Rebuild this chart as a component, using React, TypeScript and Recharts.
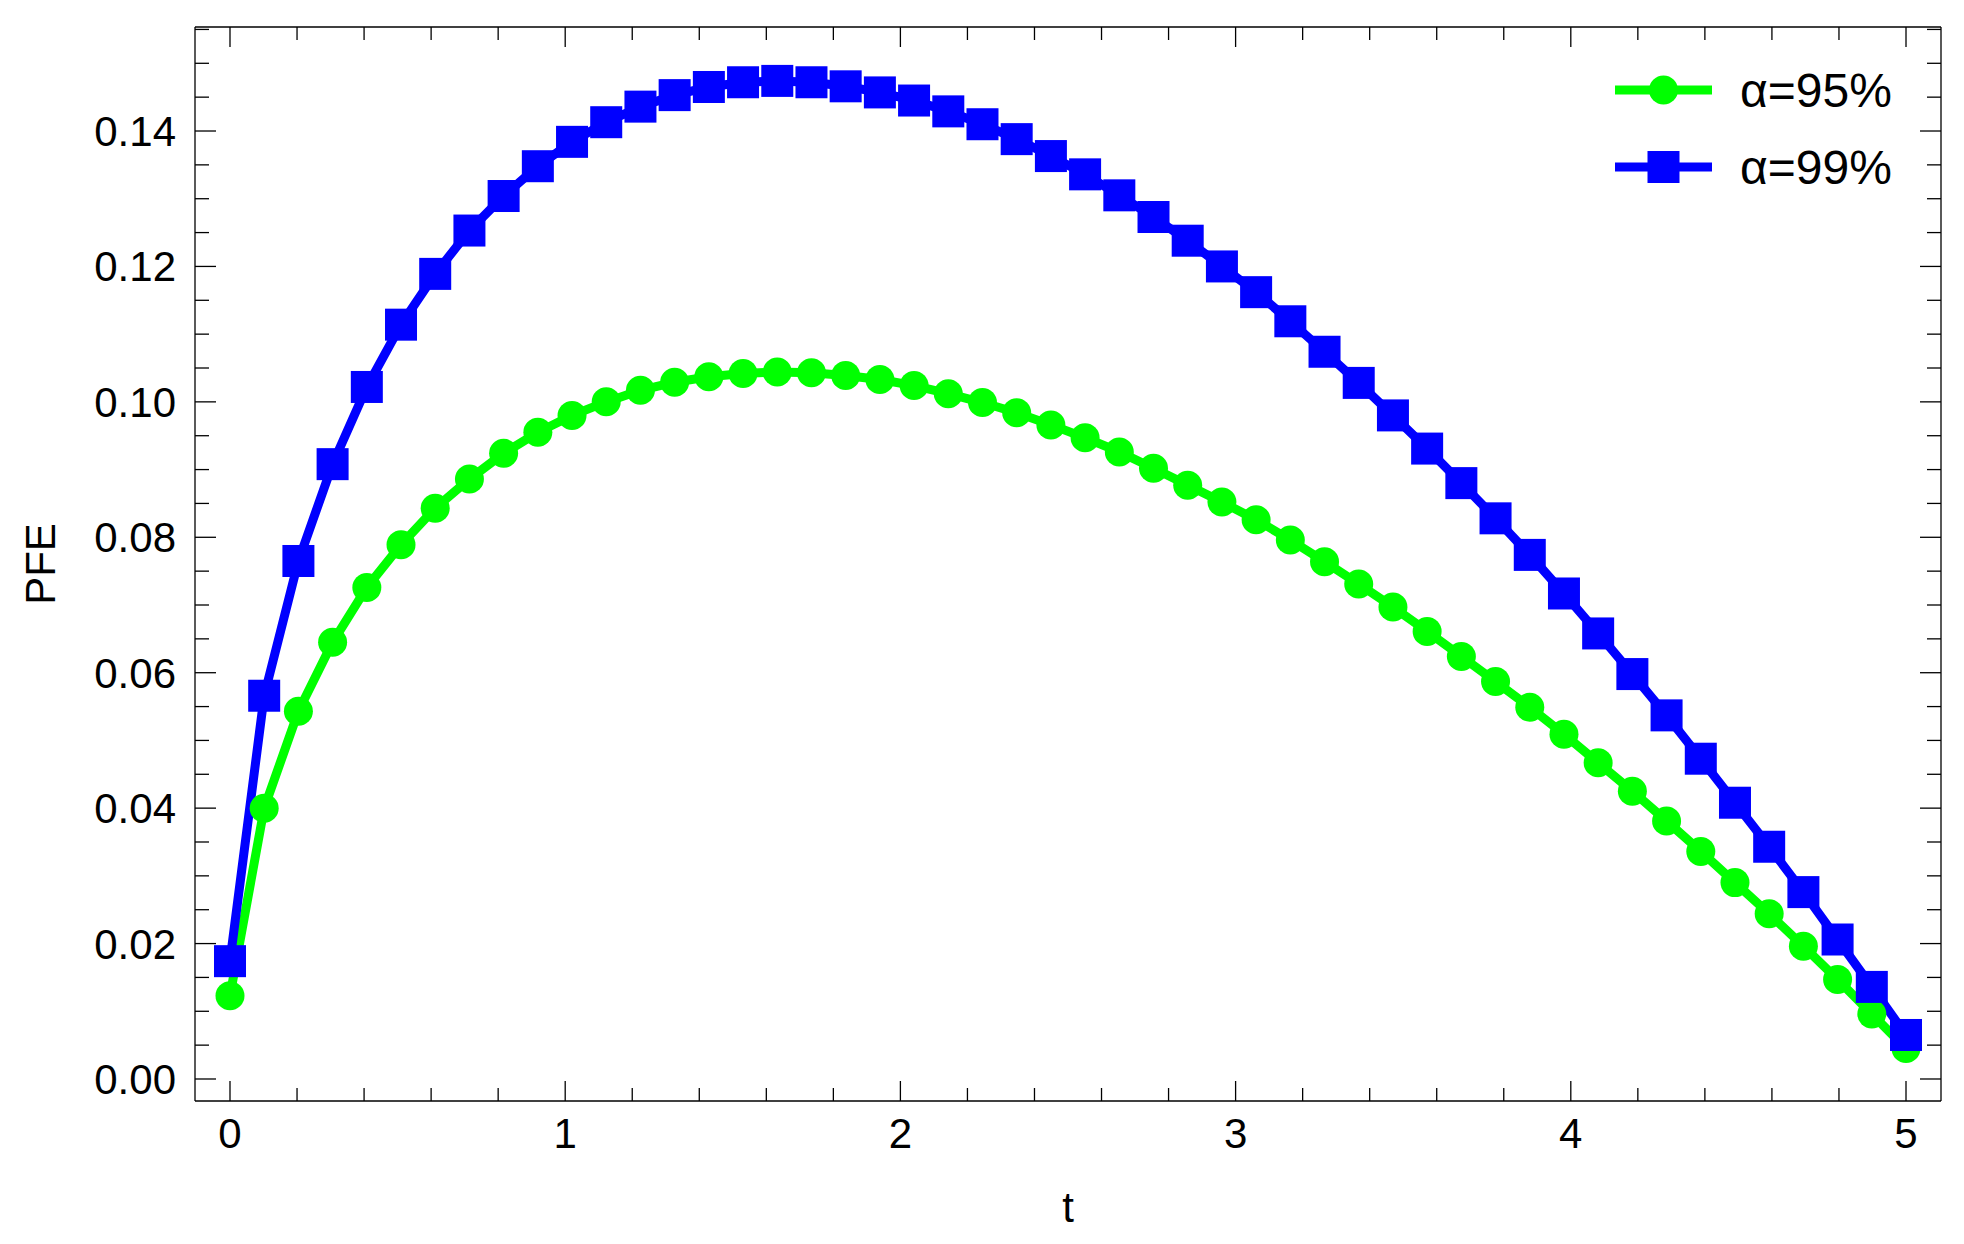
import React from 'react';
import { LineChart, Line, XAxis, YAxis, Legend } from 'recharts';

const tValues = [
  0, 0.102, 0.2041, 0.3061, 0.4082, 0.5102, 0.6122, 0.7143, 0.8163, 0.9184,
  1.0204, 1.1224, 1.2245, 1.3265, 1.4286, 1.5306, 1.6327, 1.7347, 1.8367, 1.9388,
  2.0408, 2.1429, 2.2449, 2.3469, 2.449, 2.551, 2.6531, 2.7551, 2.8571, 2.9592,
  3.0612, 3.1633, 3.2653, 3.3673, 3.4694, 3.5714, 3.6735, 3.7755, 3.8776, 3.9796,
  4.0816, 4.1837, 4.2857, 4.3878, 4.4898, 4.5918, 4.6939, 4.7959, 4.898, 5.0,
];

const pfe95 = [
  0.0123, 0.04, 0.0543, 0.0645, 0.0726, 0.0789, 0.0843, 0.0886, 0.0924, 0.0955,
  0.098, 0.1, 0.1017, 0.1029, 0.1037, 0.1042, 0.1044, 0.1043, 0.1039, 0.1033,
  0.1024, 0.1012, 0.0999, 0.0984, 0.0966, 0.0947, 0.0926, 0.0902, 0.0877, 0.0852,
  0.0826, 0.0796, 0.0764, 0.0731, 0.0697, 0.0661, 0.0624, 0.0587, 0.0549, 0.0509,
  0.0467, 0.0425, 0.0381, 0.0336, 0.029, 0.0244, 0.0196, 0.0147, 0.0096, 0.0045,
];

const pfe99 = [
  0.0174, 0.0566, 0.0765, 0.0908, 0.1022, 0.1114, 0.1189, 0.1253, 0.1304, 0.1348,
  0.1384, 0.1413, 0.1436, 0.1453, 0.1465, 0.1472, 0.1474, 0.1472, 0.1466, 0.1457,
  0.1445, 0.1429, 0.141, 0.1388, 0.1363, 0.1336, 0.1305, 0.1273, 0.1238, 0.12,
  0.1162, 0.1119, 0.1074, 0.1028, 0.098, 0.0931, 0.088, 0.0828, 0.0774, 0.0717,
  0.0658, 0.0598, 0.0537, 0.0473, 0.0408, 0.0343, 0.0276, 0.0206, 0.0136, 0.0065,
];

const seriesNames = ['α=95%', 'α=99%'];

const xTicks = [
  0, 0.2, 0.4, 0.6, 0.8, 1, 1.2, 1.4, 1.6, 1.8, 2, 2.2, 2.4, 2.6, 2.8,
  3, 3.2, 3.4, 3.6, 3.8, 4, 4.2, 4.4, 4.6, 4.8, 5,
];
const xMajorTicks = [0, 1, 2, 3, 4, 5];
const yTicks = [
  0, 0.005, 0.01, 0.015, 0.02, 0.025, 0.03, 0.035, 0.04, 0.045, 0.05, 0.055,
  0.06, 0.065, 0.07, 0.075, 0.08, 0.085, 0.09, 0.095, 0.1, 0.105, 0.11, 0.115,
  0.12, 0.125, 0.13, 0.135, 0.14, 0.145, 0.15, 0.155,
];
const yMajorTicks = [0, 0.02, 0.04, 0.06, 0.08, 0.1, 0.12, 0.14];

const xDomain = [-0.1044, 5.1044];
const yDomain = [-0.00325, 0.15536];

const data = tValues.map((t, i) => ({ t, a95: pfe95[i], a99: pfe99[i] }));

const FONT = '"Liberation Sans", Arial, sans-serif';
const GREEN = '#00ff00';
const BLUE = '#0000ff';
const MAJOR = 20;
const MINOR = 13;
const TICK_W = 1.3;
const TICK_FS = 42;

const isMajor = (v: number, list: number[]) => list.some((m) => Math.abs(m - v) < 1e-9);

const BottomTick = (props: any) => {
  const { x, y, payload } = props;
  const major = isMajor(payload.value, xMajorTicks);
  return (
    <g>
      <line x1={x} x2={x} y1={y} y2={y - (major ? MAJOR : MINOR)} stroke="#000" strokeWidth={TICK_W} />
      {major && (
        <text x={x} y={y + 47} textAnchor="middle" fontSize={TICK_FS} fontFamily={FONT} fill="#000">
          {String(Math.round(payload.value))}
        </text>
      )}
    </g>
  );
};

const TopTick = (props: any) => {
  const { x, y, payload } = props;
  const major = isMajor(payload.value, xMajorTicks);
  return <line x1={x} x2={x} y1={y} y2={y + (major ? MAJOR : MINOR)} stroke="#000" strokeWidth={TICK_W} />;
};

const LeftTick = (props: any) => {
  const { x, y, payload } = props;
  const major = isMajor(payload.value, yMajorTicks);
  return (
    <g>
      <line x1={x} x2={x + (major ? MAJOR + 1 : MINOR + 1)} y1={y} y2={y} stroke="#000" strokeWidth={TICK_W} />
      {major && (
        <text x={x - 19} y={y + 15} textAnchor="end" fontSize={TICK_FS} fontFamily={FONT} fill="#000">
          {payload.value.toFixed(2)}
        </text>
      )}
    </g>
  );
};

const RightTick = (props: any) => {
  const { x, y, payload } = props;
  const major = isMajor(payload.value, yMajorTicks);
  return <line x1={x} x2={x - (major ? MAJOR + 1 : MINOR + 1)} y1={y} y2={y} stroke="#000" strokeWidth={TICK_W} />;
};

const CircleDot = (props: any) => {
  const { cx, cy, index } = props;
  return <circle key={`c${index}`} cx={cx} cy={cy} r={14.5} fill={GREEN} />;
};

const SquareDot = (props: any) => {
  const { cx, cy, index } = props;
  return <rect key={`s${index}`} x={cx - 16} y={cy - 16} width={32} height={32} fill={BLUE} />;
};

const LegendContent = (props: any) => {
  const payload = props.payload || [];
  return (
    <svg width={360} height={160}>
      {payload.map((entry: any, i: number) => {
        const cy = 40 + i * 77;
        const color = entry.color;
        return (
          <g key={i}>
            <line x1={35} x2={132} y1={cy} y2={cy} stroke={color} strokeWidth={9} />
            {i === 0 ? (
              <circle cx={83.5} cy={cy} r={14.5} fill={color} />
            ) : (
              <rect x={83.5 - 16} y={cy - 16} width={32} height={32} fill={color} />
            )}
            <text x={160} y={cy + 17} fontSize={48} fontFamily={FONT} fill="#000">
              {entry.value}
            </text>
          </g>
        );
      })}
    </svg>
  );
};

const XLabel = (props: any) => {
  const vb = props.viewBox;
  return (
    <text x={vb.x + vb.width / 2} y={vb.y + 121} textAnchor="middle" fontSize={42} fontFamily={FONT} fill="#000">
      t
    </text>
  );
};

const YLabel = (props: any) => {
  const vb = props.viewBox;
  const x = vb.x + vb.width - 140;
  const y = vb.y + vb.height / 2;
  return (
    <text x={x} y={y} transform={`rotate(-90, ${x}, ${y})`} textAnchor="middle" fontSize={42} fontFamily={FONT} fill="#000">
      PFE
    </text>
  );
};

export default function App() {
  return (
    <div style={{ position: 'absolute', left: 0, top: 0, background: '#fff' }}>
      <LineChart width={1964} height={1244} data={data} margin={{ top: 26, right: 22, bottom: 142, left: 194 }}>
        <XAxis
          xAxisId="b"
          dataKey="t"
          type="number"
          orientation="bottom"
          domain={xDomain}
          allowDataOverflow
          ticks={xTicks}
          interval={0}
          height={1}
          tickSize={0}
          tickMargin={0}
          tickLine={false}
          tick={<BottomTick />}
          axisLine={{ stroke: '#000', strokeWidth: TICK_W }}
          label={{ content: <XLabel /> }}
        />
        <XAxis
          xAxisId="t"
          dataKey="t"
          type="number"
          orientation="top"
          domain={xDomain}
          allowDataOverflow
          ticks={xTicks}
          interval={0}
          height={1}
          tickSize={0}
          tickMargin={0}
          tickLine={false}
          tick={<TopTick />}
          axisLine={{ stroke: '#000', strokeWidth: TICK_W }}
        />
        <YAxis
          yAxisId="l"
          type="number"
          orientation="left"
          domain={yDomain}
          allowDataOverflow
          ticks={yTicks}
          interval={0}
          width={1}
          tickSize={0}
          tickMargin={0}
          tickLine={false}
          tick={<LeftTick />}
          axisLine={{ stroke: '#000', strokeWidth: TICK_W }}
          label={{ content: <YLabel /> }}
        />
        <YAxis
          yAxisId="r"
          type="number"
          orientation="right"
          domain={yDomain}
          allowDataOverflow
          ticks={yTicks}
          interval={0}
          width={1}
          tickSize={0}
          tickMargin={0}
          tickLine={false}
          tick={<RightTick />}
          axisLine={{ stroke: '#000', strokeWidth: TICK_W }}
        />
        <Line
          xAxisId="b"
          yAxisId="l"
          type="linear"
          dataKey="a95"
          name={seriesNames[0]}
          stroke={GREEN}
          strokeWidth={9}
          dot={CircleDot}
          activeDot={false}
          isAnimationActive={false}
        />
        <Line
          xAxisId="b"
          yAxisId="l"
          type="linear"
          dataKey="a99"
          name={seriesNames[1]}
          stroke={BLUE}
          strokeWidth={9}
          dot={SquareDot}
          activeDot={false}
          isAnimationActive={false}
        />
        <Legend
          layout="horizontal"
          verticalAlign="middle"
          align="center"
          wrapperStyle={{ left: 1580, top: 50, width: 360, height: 160 }}
          content={<LegendContent />}
        />
      </LineChart>
    </div>
  );
}
